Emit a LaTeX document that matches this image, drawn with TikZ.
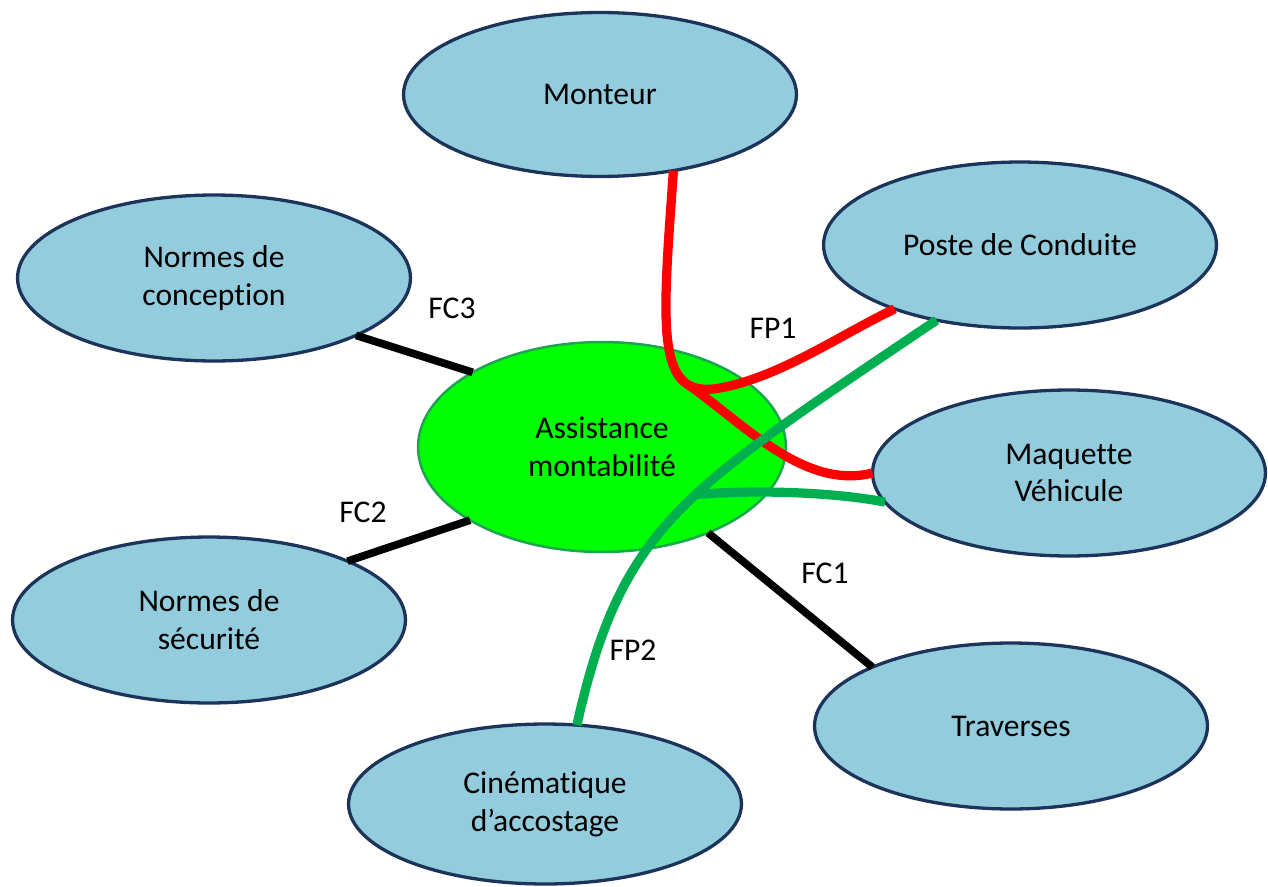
\documentclass[tikz,border=0pt]{standalone}
\usepackage{fontspec}
\setmainfont{Carlito}[Ligatures={NoCommon}]
\usetikzlibrary{shapes.geometric}
\definecolor{bubfill}{RGB}{147,205,221}
\definecolor{bubline}{RGB}{28,52,90}
\definecolor{corefill}{RGB}{0,255,0}
\definecolor{coreline}{RGB}{30,165,80}
\definecolor{fpgreen}{RGB}{0,176,80}
\definecolor{fpred}{RGB}{255,0,0}
\begin{document}
\begin{tikzpicture}[x=0.02cm,y=-0.02cm,
  every node/.style={font=\fontsize{18}{21.5}\selectfont, text=black},
  bub/.style={ellipse, draw=bubline, fill=bubfill, line width=0.066cm,
    minimum width=7.86cm, minimum height=3.32cm, inner sep=0pt, outer sep=0pt, align=center},
  core/.style={ellipse, draw=coreline, fill=corefill, line width=0.05cm,
    minimum width=7.36cm, minimum height=4.2cm, inner sep=0pt, outer sep=0pt, align=center},
  fcline/.style={line width=0.155cm, black},
  fpr/.style={line width=0.185cm, fpred},
  fpg/.style={line width=0.185cm, fpgreen},
  lbl/.style={inner sep=0pt}]
\useasboundingbox (0,0) rectangle (1268,886);

% surrounding elements
\node[bub, minimum height=3.28cm] (mo) at (600,94.5) {Monteur};
\node[bub] (pc) at (1020,245) {Poste de Conduite};
\node[bub] (nc) at (214,278) {Normes de\\conception};
\node[bub] (mq) at (1069,473) {Maquette\\Véhicule};
\node[bub] (ns) at (209,620) {Normes de\\sécurité};
\node[bub] (tr) at (1011,726) {Traverses};
\node[bub, minimum height=3.2cm] (cin) at (545,804) {Cinématique\\d’accostage};

% product under study
\node[core] (am) at (602,447) {Assistance\\montabilité};

% constraint functions
\draw[fcline] (nc.-22) -- (am.150);
\draw[fcline] (ns.23) -- (am.-151);
\draw[fcline] (am.-39) -- (tr.157);

% main function FP1
\draw[fpr] (mo.-46) .. controls (662,330) and (655,400) .. (720,388)
  coordinate[pos=0.8] (jr)
  .. controls (780,377) and (840,335) .. (pc.-153);
\draw[fpr] (jr) .. controls (745,425) and (805,490) .. (mq.180);

% main function FP2
\draw[fpg] (pc.-138) .. controls (684,491) and (622,523) .. (cin.68)
  coordinate[pos=0.45] (jg);
\draw[fpg] (jg) .. controls (760,489) and (840,493) .. (mq.-171);

% function labels
\node[lbl] (fp1) at (773,328) {FP1};
\node[lbl] (fp2) at (633,650) {FP2};
\node[lbl] (fc1) at (825,573) {FC1};
\node[lbl] (fc2) at (363,512) {FC2};
\node[lbl] (fc3) at (452,308) {FC3};
\end{tikzpicture}
\end{document}
